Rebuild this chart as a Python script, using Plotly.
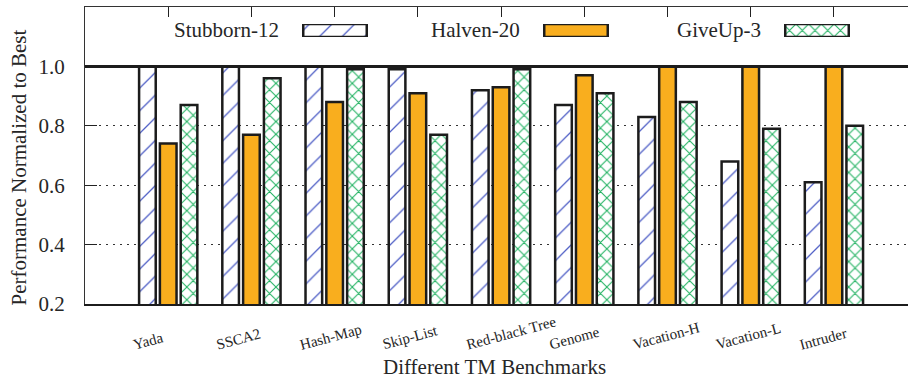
import plotly.graph_objects as go

categories = ["Yada", "SSCA2", "Hash-Map", "Skip-List", "Red-black Tree",
              "Genome", "Vacation-H", "Vacation-L", "Intruder"]
series_names = ["Stubborn-12", "Halven-20", "GiveUp-3"]
stubborn_12 = [1.00, 1.00, 1.00, 0.99, 0.92, 0.87, 0.83, 0.68, 0.61]
halven_20 = [0.74, 0.77, 0.88, 0.91, 0.93, 0.97, 1.00, 1.00, 1.00]
giveup_3 = [0.87, 0.96, 0.99, 0.77, 0.99, 0.91, 0.88, 0.79, 0.80]
y_tick_values = [0.2, 0.4, 0.6, 0.8, 1.0]
y_tick_labels = ["0.2", "0.4", "0.6", "0.8", "1.0"]
best_level = 1.0
x_title = "Different TM Benchmarks"
y_title = "Performance Normalized to Best"

FONT = "Liberation Serif"
TXT = "#262626"
EDGE = "#1c1c1c"

styles = [
    dict(color="white", pattern=dict(shape="/", fgcolor="#4f5fc6", bgcolor="white",
                                     size=16, solidity=0.08, fillmode="replace")),
    dict(color="#f9ae1e", pattern=dict(shape="")),
    dict(color="white", pattern=dict(shape="x", fgcolor="#22b262", bgcolor="white",
                                     size=9, solidity=0.22, fillmode="replace")),
]
values = [stubborn_12, halven_20, giveup_3]

fig = go.Figure()
for name, vals, st in zip(series_names, values, styles):
    fig.add_trace(go.Bar(
        x=categories, y=vals, name=name, showlegend=False,
        marker=dict(color=st["color"], pattern=st["pattern"],
                    line=dict(color=EDGE, width=2.5)),
        xaxis="x", yaxis="y",
    ))

# empty helper trace so the top (mirrored) category axis gets its ticks
fig.add_trace(go.Scatter(
    x=categories, y=[None] * len(categories), mode="markers",
    marker=dict(opacity=0), showlegend=False, hoverinfo="skip",
    xaxis="x2", yaxis="y",
))

# custom legend: label text followed by sample box
leg_w = 0.2635
for i, (name, st) in enumerate(zip(series_names, styles)):
    fig.add_trace(go.Bar(
        x=[i], y=[1], base=0, width=leg_w, showlegend=False, hoverinfo="skip",
        marker=dict(color=st["color"], pattern=st["pattern"],
                    line=dict(color=EDGE, width=2.5)),
        xaxis="x3", yaxis="y3",
    ))
    fig.add_annotation(
        x=i - leg_w / 2, y=0.5, xref="x3", yref="y3", text=name,
        showarrow=False, xanchor="right", yanchor="middle", xshift=-22,
        font=dict(family=FONT, size=21, color=TXT),
    )

# rotated category labels, left-anchored like the original
for c in categories:
    fig.add_annotation(
        x=c, y=0, xref="x", yref="paper", text=c, showarrow=False,
        textangle=-15, xanchor="left", yanchor="bottom",
        xshift=-39, yshift=-51,
        font=dict(family=FONT, size=15, color=TXT),
    )

fig.add_annotation(
    x=0.5, y=0, xref="paper", yref="paper", text=x_title, showarrow=False,
    xanchor="center", yanchor="top", yshift=-49, xshift=-2,
    font=dict(family=FONT, size=21, color=TXT),
)
fig.add_annotation(
    x=0, y=0.5, xref="paper", yref="paper", text=y_title, showarrow=False,
    textangle=-90, xanchor="center", yanchor="middle", xshift=-67, yshift=-12,
    font=dict(family=FONT, size=21, color=TXT),
)

fig.add_shape(type="line", xref="x domain", yref="y", x0=0, x1=1,
              y0=best_level, y1=best_level, line=dict(color=EDGE, width=3),
              layer="above")

fig.update_layout(
    width=908, height=379,
    margin=dict(l=85, r=0, t=7, b=75),
    plot_bgcolor="white", paper_bgcolor="white",
    barmode="group", bargap=0.25, bargroupgap=0.2,
    font=dict(family=FONT, color=TXT),
    xaxis=dict(
        range=[-1.0, 8.89], showline=True, linecolor=EDGE, linewidth=1.5,
        ticks="", showgrid=False, showticklabels=False, automargin=False,
    ),
    xaxis2=dict(
        overlaying="x", anchor="y", side="top", matches="x",
        showline=True, linecolor="#333", linewidth=1,
        ticks="inside", ticklen=10, tickcolor="#222", tickwidth=1.2,
        showticklabels=False, showgrid=False, zeroline=False,
    ),
    yaxis=dict(
        range=[0.2, 1.2], tickvals=y_tick_values, ticktext=y_tick_labels,
        showline=True, linecolor="#333", linewidth=1,
        ticks="inside", ticklen=12, tickcolor="#222", tickwidth=1.2,
        showgrid=True, gridcolor="#333", griddash="1.5px,5.5px", gridwidth=1,
        zeroline=False, ticklabelstandoff=15,
        tickfont=dict(family=FONT, size=21, color=TXT),
        automargin=False,
    ),
    xaxis3=dict(domain=[0.2452, 0.948], range=[-0.2, 2.2], anchor="y3",
                visible=False, fixedrange=True),
    yaxis3=dict(domain=[0.899, 0.9428], range=[0, 1], anchor="x3",
                visible=False, fixedrange=True),
)

fig.write_html("out.html", config={"displayModeBar": False},
               post_script="document.body.style.margin='0px';")
